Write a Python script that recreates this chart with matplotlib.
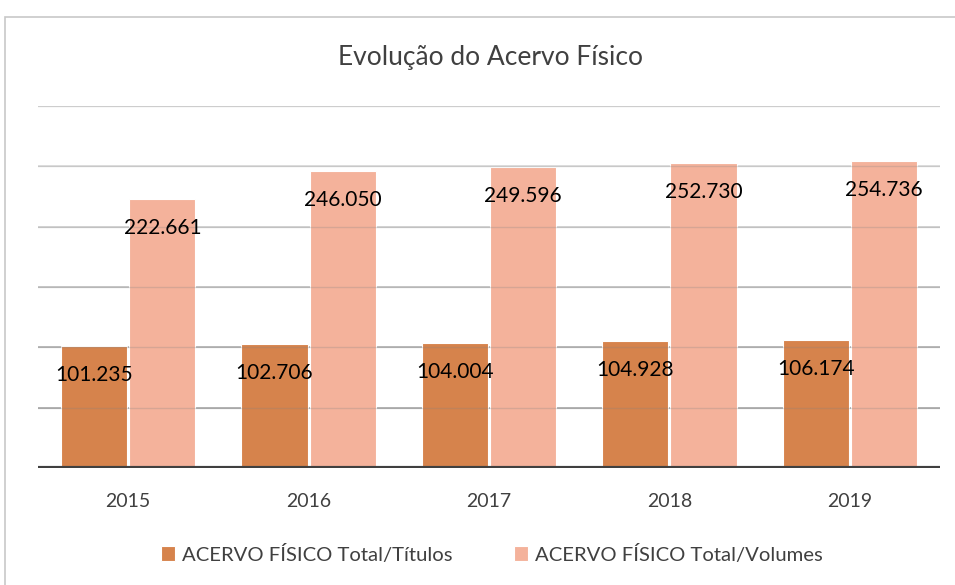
import matplotlib
matplotlib.use("Agg")
import matplotlib.pyplot as plt
from matplotlib.patches import Rectangle
import numpy as np

plt.rcParams['font.family'] = ['Lato', 'DejaVu Sans']

years = ["2015", "2016", "2017", "2018", "2019"]
titulos = [101235, 102706, 104004, 104928, 106174]
volumes = [222661, 246050, 249596, 252730, 254736]
titulos_labels = ["101.235", "102.706", "104.004", "104.928", "106.174"]
volumes_labels = ["222.661", "246.050", "249.596", "252.730", "254.736"]
series_names = ["ACERVO FÍSICO Total/Títulos", "ACERVO FÍSICO Total/Volumes"]
title = "Evolução do Acervo Físico"

c_tit = "#d6834c"
c_vol = "#f4b29b"
txt = "#404040"

fig = plt.figure(figsize=(9.55, 5.85), dpi=100)
fig.patches.append(Rectangle((5/955, -0.05), 1.2, 1 - 17/585 + 0.05,
                             transform=fig.transFigure, fill=False,
                             edgecolor="#c8c8c8", linewidth=1.2))
ax = fig.add_axes([38/955, 1 - 468/585, (940 - 38)/955, (468 - 106)/585])

x = np.arange(len(years))
w = 0.367
gap = 0.006
ax.set_xlim(-0.5, len(years) - 0.5)
ax.set_ylim(0, 300000)

grid_cols = ["#e3e3e3", "#dcdcdc", "#d0d0d0", "#c0c0c0", "#b0b0b0", "#a8a8a8"]
for i, gv in enumerate(range(300000, 0, -50000)):
    ax.axhline(gv, color=grid_cols[i], linewidth=1.2, zorder=1)

b1 = ax.bar(x - w/2 - gap, titulos, w, color=c_tit, edgecolor="white", linewidth=0.8, zorder=2, label=series_names[0])
b2 = ax.bar(x + w/2 + gap, volumes, w, color=c_vol, edgecolor="white", linewidth=0.8, zorder=2, label=series_names[1])

for gv in range(50000, 300001, 50000):
    ax.axhline(gv, color="#808080", linewidth=1.0, alpha=0.25, zorder=3)

for rect, lab in zip(b1, titulos_labels):
    ax.annotate(lab, (rect.get_x() + rect.get_width()/2, rect.get_height()),
                xytext=(0, -29), textcoords="offset pixels", ha="center", va="center",
                fontsize=15, color="black", zorder=5)
for rect, lab in zip(b2, volumes_labels):
    ax.annotate(lab, (rect.get_x() + rect.get_width()/2, rect.get_height()),
                xytext=(0, -29), textcoords="offset pixels", ha="center", va="center",
                fontsize=15, color="black", zorder=5)

ax.axhline(0, color="#404040", linewidth=3, zorder=4)

for s in ax.spines.values():
    s.set_visible(False)
ax.set_yticks([])
ax.set_xticks(x)
ax.set_xticklabels(years, fontsize=14, color=txt)
ax.tick_params(axis="x", length=0, pad=18)

fig.text(490/955, 1 - 57/585, title, ha="center", va="center", fontsize=19, color=txt)

leg = fig.legend(handles=[b1, b2], labels=series_names, loc="center",
                 bbox_to_anchor=(492/955, 1 - 554/585), ncol=2, frameon=False,
                 fontsize=14.6, handlelength=0.7, handleheight=0.7,
                 handletextpad=0.35, columnspacing=3.0)
for t in leg.get_texts():
    t.set_color(txt)

fig.savefig("out.png", dpi=100)
